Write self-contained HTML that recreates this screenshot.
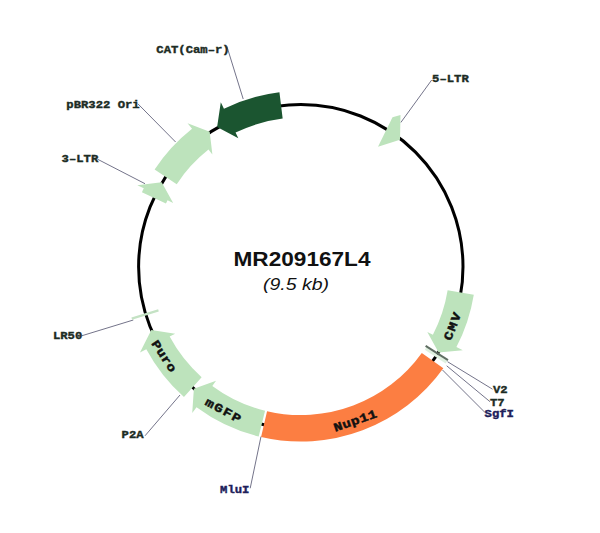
<!DOCTYPE html>
<html><head><meta charset="utf-8"><style>
html,body{margin:0;padding:0;background:#fff;width:600px;height:533px;overflow:hidden;}
svg{display:block;font-family:"Liberation Sans", sans-serif;}
</style></head><body>
<svg width="600" height="533" viewBox="0 0 600 533"><line x1="226.6" y1="45.5" x2="243.2" y2="99.0" stroke="#74748a" stroke-width="1"/>
<line x1="137.9" y1="103.8" x2="175.6" y2="142.0" stroke="#74748a" stroke-width="1"/>
<line x1="97.5" y1="159.2" x2="145.0" y2="183.7" stroke="#74748a" stroke-width="1"/>
<line x1="431.7" y1="80.0" x2="400.8" y2="122.5" stroke="#74748a" stroke-width="1"/>
<line x1="81.7" y1="335.8" x2="133.3" y2="320.0" stroke="#74748a" stroke-width="1"/>
<line x1="145.0" y1="435.8" x2="180.0" y2="395.0" stroke="#74748a" stroke-width="1"/>
<line x1="250.2" y1="488.3" x2="261.0" y2="436.5" stroke="#74748a" stroke-width="1"/>
<line x1="492.5" y1="389.2" x2="447.5" y2="361.7" stroke="#74748a" stroke-width="1"/>
<line x1="490.0" y1="401.7" x2="446.7" y2="365.8" stroke="#74748a" stroke-width="1"/>
<line x1="485.0" y1="412.5" x2="442.5" y2="370.0" stroke="#74748a" stroke-width="1"/>
<circle cx="300.80" cy="266.80" r="162.20" fill="none" stroke="#000" stroke-width="3"/>
<path d="M141.92,192.22 A175.30,175.30 0 0 1 143.78,188.36 L137.33,185.15 L161.66,182.36 L173.16,202.94 L167.52,200.14 A148.80,148.80 0 0 0 165.94,203.41 Z" fill="#bde3bc"/>
<path d="M154.62,169.55 A175.30,175.30 0 0 1 192.03,128.82 L187.57,123.18 L209.70,131.74 L212.38,154.55 L208.48,149.61 A148.80,148.80 0 0 0 176.72,184.17 Z" fill="#bde3bc"/>
<path d="M223.95,108.74 A175.30,175.30 0 0 1 279.44,92.31 L282.67,118.61 A148.80,148.80 0 0 0 235.57,132.56 L238.33,138.22 L217.11,127.01 L220.80,102.27 Z" fill="#1b5530"/>
<path d="M400.5,114.9 L392.5,117.2 L378,146.8 L400,139.7 Z" fill="#bde3bc"/>
<path d="M473.80,294.63 A175.30,175.30 0 0 1 456.43,346.97 L462.83,350.29 L438.61,352.41 L427.31,331.88 L432.91,334.78 A148.80,148.80 0 0 0 447.64,290.35 Z" fill="#bde3bc"/>
<path d="M443.34,368.35 A175.30,175.30 0 0 1 261.07,437.04 L267.07,411.23 A148.80,148.80 0 0 0 421.79,352.92 Z" fill="#fc7e42"/>
<path d="M258.69,436.47 A175.30,175.30 0 0 1 196.53,407.22 L192.24,413.00 L193.87,388.66 L216.04,380.85 L212.29,385.91 A148.80,148.80 0 0 0 265.05,410.74 Z" fill="#bde3bc"/>
<path d="M183.96,396.98 A175.30,175.30 0 0 1 146.31,349.14 L139.96,352.54 L151.33,330.05 L175.21,333.64 L169.66,336.62 A148.80,148.80 0 0 0 201.62,377.23 Z" fill="#bde3bc"/>
<line x1="158.46" y1="310.36" x2="131.72" y2="318.64" stroke="#c4e2c4" stroke-width="2.2"/>
<line x1="425.61" y1="348.60" x2="446.48" y2="362.36" stroke="#dff0df" stroke-width="3"/>
<line x1="425.62" y1="345.82" x2="447.97" y2="360.06" stroke="#5f6e62" stroke-width="2"/>
<text transform="translate(355.14 420.61) rotate(-19.40) scale(1.200 1)" x="0.17" y="3.96" text-anchor="middle" font-family="Liberation Mono" font-weight="bold" font-size="12.00" letter-spacing="0.40" fill="#111" stroke="#111" stroke-width="0.45">Nup11</text>
<text transform="translate(452.35 326.30) rotate(-68.40) scale(1.200 1)" x="0.50" y="3.96" text-anchor="middle" font-family="Liberation Mono" font-weight="bold" font-size="12.00" letter-spacing="1.20" fill="#111" stroke="#111" stroke-width="0.45">CMV</text>
<text transform="translate(223.24 410.35) rotate(28.30) scale(1.200 1)" x="0.50" y="3.96" text-anchor="middle" font-family="Liberation Mono" font-weight="bold" font-size="12.00" letter-spacing="1.20" fill="#111" stroke="#111" stroke-width="0.45">mGFP</text>
<text transform="translate(164.06 356.12) rotate(56.70) scale(1.200 1)" x="0.08" y="3.96" text-anchor="middle" font-family="Liberation Mono" font-weight="bold" font-size="12.00" letter-spacing="0.20" fill="#111" stroke="#111" stroke-width="0.45">Puro</text>
<text transform="translate(156.30 52.75) scale(1.200 1)" font-family="Liberation Mono" font-weight="bold" font-size="10.20" fill="#1c2c24" stroke="#1c2c24" stroke-width="0.35">CAT(Cam&#8211;r)</text>
<text transform="translate(66.30 107.70) scale(1.200 1)" font-family="Liberation Mono" font-weight="bold" font-size="10.20" fill="#1c2c24" stroke="#1c2c24" stroke-width="0.35">pBR322 Ori</text>
<text transform="translate(61.60 162.20) scale(1.200 1)" font-family="Liberation Mono" font-weight="bold" font-size="10.20" fill="#1c2c24" stroke="#1c2c24" stroke-width="0.35">3&#8211;LTR</text>
<text transform="translate(432.10 82.20) scale(1.200 1)" font-family="Liberation Mono" font-weight="bold" font-size="10.20" fill="#1c2c24" stroke="#1c2c24" stroke-width="0.35">5&#8211;LTR</text>
<text transform="translate(52.90 338.80) scale(1.200 1)" font-family="Liberation Mono" font-weight="bold" font-size="10.20" fill="#1c2c24" stroke="#1c2c24" stroke-width="0.35">LR50</text>
<text transform="translate(121.60 438.00) scale(1.200 1)" font-family="Liberation Mono" font-weight="bold" font-size="10.20" fill="#1c2c24" stroke="#1c2c24" stroke-width="0.35">P2A</text>
<text transform="translate(220.10 492.50) scale(1.200 1)" font-family="Liberation Mono" font-weight="bold" font-size="10.20" fill="#20205a" stroke="#20205a" stroke-width="0.35">MluI</text>
<text transform="translate(492.90 393.00) scale(1.200 1)" font-family="Liberation Mono" font-weight="bold" font-size="10.20" fill="#1c2c24" stroke="#1c2c24" stroke-width="0.35">V2</text>
<text transform="translate(489.90 405.50) scale(1.200 1)" font-family="Liberation Mono" font-weight="bold" font-size="10.20" fill="#1c2c24" stroke="#1c2c24" stroke-width="0.35">T7</text>
<text transform="translate(484.60 417.20) scale(1.200 1)" font-family="Liberation Mono" font-weight="bold" font-size="10.20" fill="#20205a" stroke="#20205a" stroke-width="0.35">SgfI</text>
<text x="302" y="266" text-anchor="middle" font-family="Liberation Sans" font-weight="bold" font-size="20.8" textLength="137" lengthAdjust="spacingAndGlyphs" fill="#111">MR209167L4</text>
<text x="263" y="290" font-family="Liberation Sans" font-style="italic" font-size="16.5" textLength="66" lengthAdjust="spacingAndGlyphs" fill="#111">(9.5 kb)</text></svg>
</body></html>
